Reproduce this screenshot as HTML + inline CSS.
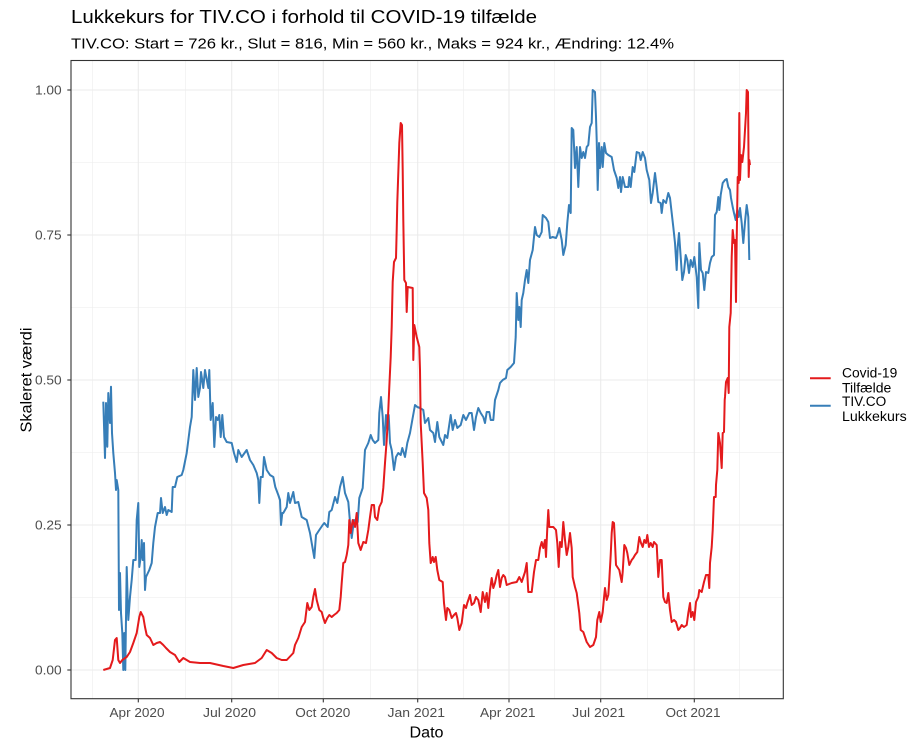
<!DOCTYPE html>
<html><head><meta charset="utf-8"><style>
html,body{margin:0;padding:0;background:#fff;}
svg{display:block;font-family:"Liberation Sans",Arial,sans-serif;}
</style></head><body>
<svg width="917" height="741" viewBox="0 0 917 741" xmlns="http://www.w3.org/2000/svg">
<rect x="0" y="0" width="917" height="741" fill="#fff"/>
<text x="71" y="23" font-size="18.5" fill="#000" textLength="466" lengthAdjust="spacingAndGlyphs">Lukkekurs for TIV.CO i forhold til COVID-19 tilfælde</text>
<text x="71" y="48.5" font-size="15" fill="#000" textLength="603" lengthAdjust="spacingAndGlyphs">TIV.CO: Start = 726 kr., Slut = 816, Min = 560 kr., Maks = 924 kr., Ændring: 12.4%</text>
<g stroke="#EBEBEB" fill="none">
<g stroke-width="0.55">
<line x1="71" x2="783.3" y1="162.5" y2="162.5"/><line x1="71" x2="783.3" y1="307.5" y2="307.5"/><line x1="71" x2="783.3" y1="452.5" y2="452.5"/><line x1="71" x2="783.3" y1="597.5" y2="597.5"/>
<line y1="60.5" y2="698.7" x1="92.7" x2="92.7"/><line y1="60.5" y2="698.7" x1="185.7" x2="185.7"/><line y1="60.5" y2="698.7" x1="278.3" x2="278.3"/><line y1="60.5" y2="698.7" x1="370.7" x2="370.7"/><line y1="60.5" y2="698.7" x1="463.7" x2="463.7"/><line y1="60.5" y2="698.7" x1="554.7" x2="554.7"/><line y1="60.5" y2="698.7" x1="647.3" x2="647.3"/><line y1="60.5" y2="698.7" x1="739.7" x2="739.7"/>
</g>
<g stroke-width="1.1">
<line x1="71" x2="783.3" y1="90" y2="90"/><line x1="71" x2="783.3" y1="235" y2="235"/><line x1="71" x2="783.3" y1="380" y2="380"/><line x1="71" x2="783.3" y1="525" y2="525"/><line x1="71" x2="783.3" y1="670" y2="670"/>
<line y1="60.5" y2="698.7" x1="138.3" x2="138.3"/><line y1="60.5" y2="698.7" x1="231.7" x2="231.7"/><line y1="60.5" y2="698.7" x1="323.3" x2="323.3"/><line y1="60.5" y2="698.7" x1="417.7" x2="417.7"/><line y1="60.5" y2="698.7" x1="509" x2="509"/><line y1="60.5" y2="698.7" x1="600.7" x2="600.7"/><line y1="60.5" y2="698.7" x1="694.3" x2="694.3"/>
</g>
</g>
<polyline fill="none" stroke="#377EB8" stroke-width="2" stroke-linejoin="round" points="103.3,401.7 105,458 106,403 107.3,446.7 108.3,393 110,423 111,386.7 112,433 113.3,453 115,473 116,490 116.7,480 118.3,490 119,610 120,573 121,613 122.3,633 123.3,670 124.3,633 125.3,670 126.7,567 128.3,620 130,597 131.7,580 133.3,560 135.7,560 136.7,520 138.3,503 139.3,567 140.7,557 141.7,540 142.7,560 144,543 145,590 146,577 149.3,570 151.7,563 153.3,543 155,527 157.7,513 160,513 161,498 162.7,513 165,507 166.7,515 168.3,510 171.7,512 172.7,487 175,487 177.3,477 181.7,475 183.3,470 186.7,453 190,427 191.7,417 193.3,370 195,400 196.7,368 198.3,397 200,388 201,372 203.3,388 205,370 208.3,388 209.3,370 210.7,420 212.7,403 214.3,447 216,417 217.7,420 219.3,415 220.7,437 222.3,415 224,437 226.7,442 231.7,443 234,453 236.7,462 238.3,450 241.7,457 246.7,450 250,460 253.3,465 256.7,473 258.3,480 259.3,503 260.7,477 262.7,477 264,457 266.7,470 270,475 273.3,477 275.3,487 278.3,495 280,500 281,525 282.3,513 283.3,513 286.7,507 288.3,493 290,503 293.3,492 295,503 298.3,502 301.7,517 306.7,520 310,533 311.7,543 314.3,558 316,535 319.3,530 322.7,525 324.3,523 327.7,527 329.3,512 331.7,510 335,497 337.3,503 340,487 342.7,477 345,493 348.3,502 350,522 351.7,538 354,520 357.7,522 359.3,498 362.7,488 365,450 368.3,443 370.7,435 372.7,440 375,443 378.3,440 379.3,413 381,397 382.7,417 384,445 386,415 387.3,430 388.7,415 390,443 391.7,450 394,470 396,457 398.3,453 400.7,455 402.3,448 405,457 407.3,443 410,433 412.3,420 415,405 417.3,407 420,408 423.3,410 425,423 428.3,418 430,430 433.3,433 435,442 437.3,422 439.3,437 443.3,445 445,435 447.3,438 450.7,415 452.7,430 455,420 457.3,428 460.7,425 463.3,415 466,420 469.3,413 471.7,413 474,430 476,417 478.3,408 480.7,413 483.3,417 485,423 486.7,412 489.3,412 490.7,420 493.3,420 495,400 498.3,390 500,383 502.7,380 506,378 507.3,370 510.7,367 514,363 515.7,337 516.7,293 518.3,320 519.3,307 520.7,327 521.7,300 523.3,293 525,280 526.7,270 528.3,283 530,260 532.7,250 534,237 535,227 536.7,235 539.3,237 541.7,232 542.7,215 546,218 548.3,222 550,238 552.7,237 556,238 557.3,235 559.3,228 561.7,240 563.3,255 565.7,245 567.3,223 569,205 570.7,213 571.7,128 573.3,130 575,168 576.7,147 578.3,187 580,147 581.7,158 583.3,152 585,158 586.7,147 588.3,145 590,127 591.7,123 592.7,90 595,92 596,117 596.7,140 597.7,190 599,143 600,168 601.7,147 602.7,167 604.3,143 606,153 608.3,155 611.7,157 614,170 616.7,178 618.3,188 620,177 621,192 622.7,177 625,187 628.3,187 629.3,177 630.7,187 632.7,167 634.3,172 636.7,152 639.3,153 640.7,160 642.7,152 645,158 646.7,170 649.3,180 651,203 652.7,193 655,173 656.7,187 658.3,202 660.7,203 661.7,213 663.3,200 666,203 668.3,193 670,198 671.7,213 673.3,227 675,243 676.7,270 677.7,247 679,233 680.7,257 682.3,280 684,272 685.7,255 687.3,260 689,273 690.7,260 692.7,267 694.3,257 696.7,277 698.3,308 699.3,243 701,270 702.7,273 704.3,290 706,272 708.3,273 710,263 711.7,257 714,255 715,215 716.7,212 718.3,197 719.3,210 720.7,195 722.7,183 725,180 726.7,179 728.3,187 730,190 731,198 732.7,207 734,213 735.7,220 737.3,210 738.7,217 740,208 741.7,223 743.3,243 745,222 746.7,205 748.3,217 749.3,260"/>
<polyline fill="none" stroke="#E41A1C" stroke-width="2" stroke-linejoin="round" points="103.3,670 110,668 112.7,660 115,640 116.7,638 118.3,660 120,663 122.3,660 126.7,657 130,652 133.3,643 136.7,633 139.3,617 140.7,612 143.3,617 145,627 146.7,635 150,638 153.3,645 156.7,643 160,642 163.3,645 166,648 170,652 175,655 179.3,662 183.3,658 190,662 200,663 210,663 223.3,666 233.3,668 243.3,665 255,663 261.7,658 266.7,650 271.7,653 276.7,658 281.7,660 286.7,660 293.3,653 295,645 298.3,638 301.7,627 305,622 307.3,603 309.3,610 311.7,607 313.3,597 315,589 316.7,600 319.3,610 321.7,612 323.3,618 325,623 327.3,618 329.3,615 331.7,617 334,615 336.7,613 339.3,610 340.7,597 341.7,583 343.3,563 345,562 346.7,555 348.3,545 349.3,520 350.7,533 352.7,520 355,527 356.7,513 358.3,543 360.7,550 363.3,542 366,543 368.3,530 370,517 371.7,505 374,505 375,517 377.3,520 379.3,507 381.7,502 383.3,488 385,463 386.7,440 388.3,410 389.3,387 390.7,357 391.7,327 392.7,282 394,262 396,258 396.7,230 397.3,202 398.3,173 399.3,143 400.7,123 402,125 402.7,170 403.3,220 404.3,280 406,283 406.7,312 407.7,287 412.7,288 413.3,360 414.3,325 416.7,337 419.3,347 420,370 420.7,423 422.7,463 424,493 426.7,498 428.3,510 429.3,543 430.7,563 432.7,557 434,562 435.7,557 437.3,570 439.3,580 442.7,582 444,603 446,620 447.3,608 449.3,610 451.7,618 454,615 456,613 457.3,618 459.3,630 461.7,623 464,605 466,608 467.3,603 470,595 471.7,605 474,603 476,597 478.3,600 480.7,612 482.7,592 485,602 486.7,593 488.3,608 490,590 491.7,578 493.3,588 495,583 496.7,575 498.3,570 500,587 501.7,578 503.3,575 505,577 506.7,585 511.7,583 516.7,582 519.3,577 521.7,582 525,572 526.7,563 528.3,592 531.7,592 534,572 536,560 538.3,560 540,548 541.7,542 543.3,548 545,540 546,557 547.3,528 548.3,510 549.3,527 553.3,527 556,530 557.3,543 558.7,567 560,542 561.7,547 563.3,522 565,540 566.7,555 568.3,547 570,533 571.7,548 572.7,577 575,587 576.7,593 579.3,613 580.7,630 583.3,632 585,637 586.7,642 590,647 593.3,645 596,637 597.3,620 599.3,612 600.7,622 602.7,612 604,598 605,588 606.7,600 608.3,595 609.3,580 610.7,555 611.7,533 612.7,522 614,523 615,543 616,565 617.3,567 619.3,570 621.7,582 622.7,572 624.3,545 626,548 627.3,553 629.3,565 631.7,560 633.3,558 635,555 637.3,552 639.3,537 641,543 642.7,547 644.3,540 646,543 647.3,535 649,547 650.7,543 652.7,547 654,542 656.7,545 658.3,577 660,560 661.7,560 663.3,597 665,602 666.7,603 668.3,593 670,610 671.7,622 674,620 676,622 678.3,630 680,628 681.7,625 684,627 686.7,625 688.3,613 690,603 691,617 692.7,612 694.3,620 696,602 698.3,597 699.3,590 701.7,592 704,582 706,575 708.3,575 709.3,588 710,563 711.7,547 712.7,530 713.3,515 714,497 715.7,497 716,485 717.3,470 718.3,433 720,443 721.7,468 722.7,433 724,432 724.7,400 725,397 726,382 727.7,378 728.7,393 729.3,327 730.7,313 731.7,257 732.7,230 734,243 735,240 736,302 736.7,240 737.7,177 738.7,183 739.3,113 740,180 741,155 742.3,162 744,147 745,130 746,113 746.7,90 748,92 748.7,177 749.3,160 750,165"/>
<rect x="71" y="60.5" width="712.3" height="638.2" fill="none" stroke="#333333" stroke-width="1.1"/>
<g stroke="#333333" stroke-width="1.1">
<line x1="67.3" x2="71" y1="90" y2="90"/><line x1="67.3" x2="71" y1="235" y2="235"/><line x1="67.3" x2="71" y1="380" y2="380"/><line x1="67.3" x2="71" y1="525" y2="525"/><line x1="67.3" x2="71" y1="670" y2="670"/>
<line y1="698.7" y2="702.4" x1="138.3" x2="138.3"/><line y1="698.7" y2="702.4" x1="231.7" x2="231.7"/><line y1="698.7" y2="702.4" x1="323.3" x2="323.3"/><line y1="698.7" y2="702.4" x1="417.7" x2="417.7"/><line y1="698.7" y2="702.4" x1="509" x2="509"/><line y1="698.7" y2="702.4" x1="600.7" x2="600.7"/><line y1="698.7" y2="702.4" x1="694.3" x2="694.3"/>
</g>
<g font-size="12.8" fill="#4D4D4D">
<text x="35" y="94.5" textLength="26.7" lengthAdjust="spacingAndGlyphs">1.00</text>
<text x="35" y="239.5" textLength="26.7" lengthAdjust="spacingAndGlyphs">0.75</text>
<text x="35" y="384.5" textLength="26.7" lengthAdjust="spacingAndGlyphs">0.50</text>
<text x="35" y="529.5" textLength="26.7" lengthAdjust="spacingAndGlyphs">0.25</text>
<text x="35" y="674.5" textLength="26.7" lengthAdjust="spacingAndGlyphs">0.00</text>
</g>
<g font-size="12.8" fill="#4D4D4D">
<text x="109.5" y="717" textLength="55" lengthAdjust="spacingAndGlyphs">Apr 2020</text>
<text x="203" y="717" textLength="53" lengthAdjust="spacingAndGlyphs">Jul 2020</text>
<text x="295.3" y="717" textLength="55" lengthAdjust="spacingAndGlyphs">Oct 2020</text>
<text x="387.5" y="717" textLength="57.5" lengthAdjust="spacingAndGlyphs">Jan 2021</text>
<text x="480" y="717" textLength="55.5" lengthAdjust="spacingAndGlyphs">Apr 2021</text>
<text x="572.2" y="717" textLength="53" lengthAdjust="spacingAndGlyphs">Jul 2021</text>
<text x="665.5" y="717" textLength="55" lengthAdjust="spacingAndGlyphs">Oct 2021</text>
</g>
<text x="409.5" y="737.5" font-size="15.5" fill="#000" textLength="34" lengthAdjust="spacingAndGlyphs">Dato</text>
<text transform="translate(31.5,380) rotate(-90)" x="-52.5" y="0" font-size="15.5" fill="#000" textLength="105" lengthAdjust="spacingAndGlyphs">Skaleret værdi</text>
<line x1="810" x2="830.7" y1="378.3" y2="378.3" stroke="#E41A1C" stroke-width="2"/>
<line x1="810" x2="830.7" y1="405.7" y2="405.7" stroke="#377EB8" stroke-width="2"/>
<g font-size="13.5" fill="#000">
<text x="842" y="377.3" textLength="55.3" lengthAdjust="spacingAndGlyphs">Covid-19</text>
<text x="842" y="392.3" textLength="49.3" lengthAdjust="spacingAndGlyphs">Tilfælde</text>
<text x="842" y="406" textLength="44.3" lengthAdjust="spacingAndGlyphs">TIV.CO</text>
<text x="842" y="421" textLength="64.7" lengthAdjust="spacingAndGlyphs">Lukkekurs</text>
</g>
</svg>
</body></html>
